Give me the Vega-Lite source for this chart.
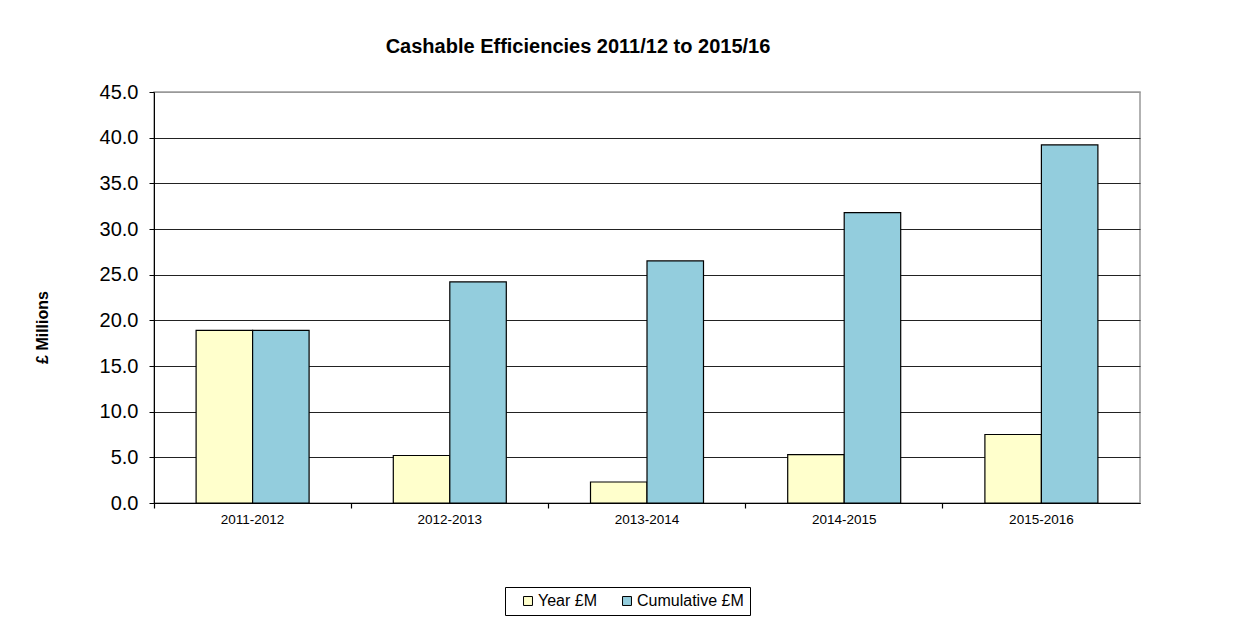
{
  "$schema": "https://vega.github.io/schema/vega-lite/v6.json",
  "autosize": "none",
  "width": 986,
  "height": 411,
  "padding": {"left": 154, "top": 92, "right": 106, "bottom": 114},
  "background": "white",
  "config": {
    "font": "Liberation Sans",
    "view": {"stroke": "#999999", "strokeWidth": 1.5}
  },
  "title": {
    "text": "Cashable Efficiencies 2011/12 to 2015/16",
    "font": "Liberation Sans",
    "fontSize": 20,
    "fontWeight": "bold",
    "color": "black",
    "anchor": "middle",
    "frame": "group",
    "dx": -69,
    "baseline": "bottom",
    "offset": 5
  },
  "data": {
    "values": [
      {"period": "2011-2012", "series": "Year £M", "value": 18.9},
      {"period": "2011-2012", "series": "Cumulative £M", "value": 18.9},
      {"period": "2012-2013", "series": "Year £M", "value": 5.2},
      {"period": "2012-2013", "series": "Cumulative £M", "value": 24.2},
      {"period": "2013-2014", "series": "Year £M", "value": 2.3},
      {"period": "2013-2014", "series": "Cumulative £M", "value": 26.5},
      {"period": "2014-2015", "series": "Year £M", "value": 5.3},
      {"period": "2014-2015", "series": "Cumulative £M", "value": 31.8},
      {"period": "2015-2016", "series": "Year £M", "value": 7.5},
      {"period": "2015-2016", "series": "Cumulative £M", "value": 39.2}
    ]
  },
  "mark": {"type": "bar", "stroke": "black", "strokeWidth": 1.2},
  "encoding": {
    "x": {
      "field": "period",
      "type": "nominal",
      "sort": null,
      "scale": {"paddingInner": 0.427, "paddingOuter": 0.2135},
      "axis": {
        "title": null,
        "labelAngle": 0,
        "labelFont": "Liberation Sans",
        "labelFontSize": 13.5,
        "labelColor": "black",
        "labelPadding": 4,
        "bandPosition": -0.3726,
        "tickSize": 5,
        "tickWidth": 1.2,
        "tickColor": "black",
        "domainColor": "black",
        "grid": false
      }
    },
    "xOffset": {
      "field": "series",
      "type": "nominal",
      "sort": ["Year £M", "Cumulative £M"],
      "scale": {"paddingInner": 0, "paddingOuter": 0}
    },
    "y": {
      "field": "value",
      "type": "quantitative",
      "scale": {"domain": [0, 45], "nice": false},
      "axis": {
        "title": "£ Millions",
        "titleFont": "Liberation Sans",
        "titleFontSize": 16,
        "titleFontWeight": "bold",
        "titleColor": "black",
        "titleX": -112,
        "titleY": 235,
        "titleBaseline": "middle",
        "titleAngle": -90,
        "values": [0, 5, 10, 15, 20, 25, 30, 35, 40, 45],
        "format": ".1f",
        "labelFont": "Liberation Sans",
        "labelFontSize": 20,
        "labelColor": "black",
        "labelPadding": 11,
        "tickSize": 5,
        "tickColor": "black",
        "domainColor": "black",
        "grid": true,
        "gridColor": {"condition": {"test": "datum.value >= 45", "value": "#999999"}, "value": "#222222"},
        "gridWidth": 1.2
      }
    },
    "color": {
      "field": "series",
      "type": "nominal",
      "sort": ["Year £M", "Cumulative £M"],
      "scale": {"domain": ["Year £M", "Cumulative £M"], "range": ["#FFFFCC", "#93CDDD"]},
      "legend": {
        "title": null,
        "orient": "none",
        "legendX": 351,
        "legendY": 495,
        "direction": "horizontal",
        "strokeColor": "black",
        "padding": 6,
        "symbolType": "square",
        "symbolSize": 80,
        "symbolStrokeColor": "black",
        "symbolStrokeWidth": 1,
        "symbolOffset": 9,
        "labelFont": "Liberation Sans",
        "labelFontSize": 16,
        "labelColor": "black",
        "labelOffset": 2,
        "columnPadding": 13
      }
    }
  }
}
